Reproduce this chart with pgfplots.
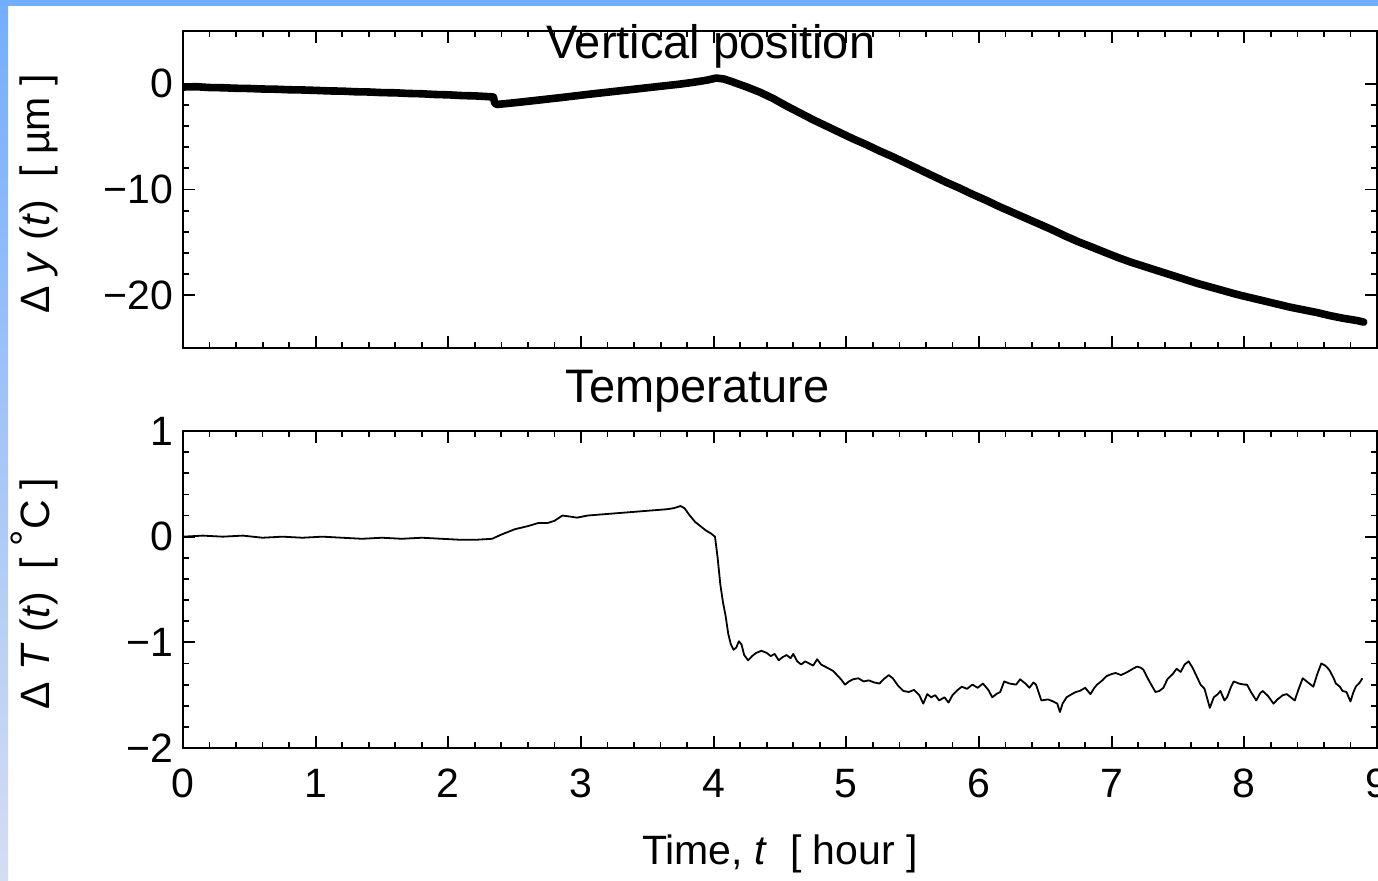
\documentclass[border=0pt]{standalone}
\usepackage{fontspec}
\setmainfont{Liberation Sans}
\usepackage{pgfplots}
\pgfplotsset{compat=1.18}
\definecolor{bgblue}{HTML}{72AEFF}
\definecolor{bgmid}{HTML}{9DC6F9}
\definecolor{bglav}{HTML}{D5DDF2}

\pgfplotstableread{
x y
0.00 -0.30
0.10 -0.27
0.20 -0.35
0.30 -0.37
0.40 -0.42
0.50 -0.44
0.60 -0.49
0.70 -0.51
0.80 -0.56
0.90 -0.58
1.00 -0.62
1.10 -0.67
1.20 -0.69
1.30 -0.75
1.40 -0.77
1.50 -0.83
1.60 -0.85
1.70 -0.91
1.80 -0.94
1.90 -1.01
2.00 -1.04
2.10 -1.11
2.20 -1.14
2.30 -1.21
2.34 -1.25
2.35 -1.85
2.37 -1.95
2.45 -1.85
2.55 -1.72
2.65 -1.58
2.75 -1.44
2.85 -1.30
2.95 -1.15
3.05 -1.00
3.15 -0.86
3.25 -0.72
3.35 -0.58
3.45 -0.44
3.55 -0.30
3.65 -0.16
3.75 -0.02
3.85 0.15
3.95 0.35
4.02 0.55
4.08 0.45
4.15 0.15
4.25 -0.30
4.35 -0.80
4.45 -1.40
4.55 -2.10
4.65 -2.75
4.75 -3.40
4.85 -4.00
4.95 -4.60
5.05 -5.20
5.15 -5.75
5.25 -6.35
5.35 -6.90
5.45 -7.50
5.55 -8.10
5.65 -8.70
5.75 -9.30
5.85 -9.85
5.95 -10.45
6.05 -11.00
6.15 -11.60
6.25 -12.15
6.35 -12.70
6.45 -13.25
6.55 -13.80
6.65 -14.40
6.75 -14.95
6.85 -15.45
6.95 -15.95
7.05 -16.45
7.15 -16.90
7.25 -17.30
7.35 -17.70
7.45 -18.10
7.55 -18.50
7.65 -18.90
7.75 -19.25
7.85 -19.60
7.95 -19.95
8.05 -20.25
8.15 -20.55
8.25 -20.85
8.35 -21.15
8.45 -21.40
8.55 -21.65
8.65 -21.95
8.75 -22.20
8.85 -22.40
8.90 -22.55
}\posdata

\pgfplotstableread{
x y
0.00 0.00
0.15 0.01
0.30 0.00
0.45 0.01
0.60 -0.01
0.75 0.00
0.90 -0.01
1.05 0.00
1.20 -0.01
1.35 -0.02
1.50 -0.01
1.65 -0.02
1.80 -0.01
1.95 -0.02
2.10 -0.03
2.20 -0.03
2.33 -0.02
2.40 0.02
2.50 0.07
2.60 0.10
2.68 0.13
2.75 0.13
2.80 0.15
2.86 0.20
2.92 0.19
2.97 0.18
3.05 0.20
3.15 0.21
3.25 0.22
3.35 0.23
3.45 0.24
3.55 0.25
3.65 0.26
3.70 0.27
3.75 0.29
3.78 0.27
3.82 0.20
3.86 0.14
3.90 0.10
3.94 0.06
3.98 0.03
4.01 0.00
4.03 -0.20
4.05 -0.45
4.07 -0.62
4.09 -0.75
4.11 -0.92
4.13 -1.02
4.15 -1.07
4.17 -1.05
4.19 -0.99
4.21 -1.02
4.23 -1.12
4.26 -1.17
4.29 -1.13
4.32 -1.10
4.36 -1.08
4.40 -1.10
4.43 -1.13
4.46 -1.11
4.49 -1.17
4.52 -1.14
4.55 -1.12
4.58 -1.15
4.60 -1.11
4.63 -1.18
4.66 -1.21
4.69 -1.18
4.72 -1.20
4.75 -1.22
4.78 -1.16
4.81 -1.21
4.84 -1.23
4.87 -1.25
4.90 -1.27
4.93 -1.31
4.96 -1.35
4.99 -1.40
5.02 -1.37
5.05 -1.35
5.09 -1.34
5.13 -1.37
5.17 -1.36
5.21 -1.38
5.25 -1.39
5.28 -1.35
5.32 -1.31
5.35 -1.34
5.39 -1.41
5.43 -1.46
5.47 -1.47
5.51 -1.45
5.55 -1.50
5.58 -1.58
5.61 -1.49
5.64 -1.52
5.67 -1.50
5.70 -1.55
5.74 -1.52
5.77 -1.57
5.80 -1.50
5.84 -1.45
5.87 -1.42
5.91 -1.44
5.95 -1.40
5.99 -1.43
6.03 -1.39
6.07 -1.45
6.10 -1.52
6.13 -1.49
6.16 -1.47
6.19 -1.37
6.23 -1.39
6.28 -1.40
6.31 -1.35
6.35 -1.39
6.38 -1.43
6.41 -1.38
6.43 -1.40
6.47 -1.55
6.52 -1.54
6.56 -1.56
6.59 -1.58
6.61 -1.66
6.63 -1.58
6.66 -1.52
6.70 -1.49
6.73 -1.47
6.76 -1.46
6.80 -1.43
6.84 -1.49
6.87 -1.43
6.89 -1.40
6.93 -1.36
6.96 -1.32
7.00 -1.30
7.03 -1.29
7.07 -1.31
7.12 -1.28
7.16 -1.25
7.19 -1.23
7.22 -1.24
7.24 -1.26
7.28 -1.36
7.33 -1.47
7.36 -1.46
7.39 -1.43
7.42 -1.35
7.46 -1.30
7.49 -1.25
7.52 -1.28
7.55 -1.21
7.58 -1.18
7.61 -1.24
7.64 -1.32
7.67 -1.40
7.70 -1.44
7.74 -1.62
7.77 -1.52
7.80 -1.49
7.82 -1.46
7.85 -1.55
7.87 -1.52
7.90 -1.42
7.92 -1.37
7.96 -1.39
8.00 -1.40
8.02 -1.40
8.05 -1.47
8.09 -1.55
8.12 -1.48
8.14 -1.46
8.18 -1.51
8.22 -1.58
8.25 -1.54
8.29 -1.50
8.32 -1.49
8.35 -1.52
8.38 -1.55
8.41 -1.44
8.44 -1.34
8.48 -1.38
8.52 -1.42
8.55 -1.30
8.58 -1.20
8.61 -1.22
8.64 -1.26
8.67 -1.33
8.69 -1.39
8.72 -1.42
8.74 -1.46
8.77 -1.47
8.80 -1.56
8.82 -1.48
8.84 -1.42
8.87 -1.38
8.89 -1.34
}\tempdata

\pgfplotsset{
  myaxis/.style={
    scale only axis,
    width=597pt, height=158.5pt,
    xmin=0, xmax=9,
    xtick={0,1,2,3,4,5,6,7,8,9},
    minor x tick num=4,
    minor y tick num=4,
    tick align=inside,
    xtick pos=both, ytick pos=both,
    xticklabel pos=lower, yticklabel pos=left,
    major tick length=6pt,
    minor tick length=3pt,
    axis line style={line width=1.1pt, black},
    every tick/.style={black, line width=0.9pt},
    tick label style={font=\fontsize{20.5}{24}\selectfont},
    label style={font=\fontsize{20.5}{24}\selectfont},
    /pgf/number format/assume math mode=true,
    title style={font=\fontsize{23.5}{28}\selectfont, anchor=base, inner sep=0pt},
    ylabel style={at={(axis description cs:-0.1114,0.487)}, anchor=base, inner sep=0pt},
    xticklabel style={yshift=-7pt},
    yticklabel style={xshift=-1.5pt},
  }
}

\begin{document}
\begin{tikzpicture}
\fill[white] (0pt,0pt) rectangle (689pt,440pt);
\shade[top color=bgblue, middle color=bgmid, bottom color=bglav] (0pt,0pt) rectangle (4pt,440pt);
\fill[bgblue] (0pt,437pt) rectangle (689pt,440pt);
\begin{scope}
\clip (0pt,0pt) rectangle (689pt,440pt);
\begin{axis}[myaxis,
  at={(91.5pt,266pt)}, anchor=south west,
  ymin=-25, ymax=5,
  ytick={-20,-10,0},
  yticklabels={−20,−10,0},
  xticklabel=\empty,
  title={Vertical position},
  title style={at={(axis description cs:0.442,0.874)}},
  ylabel={Δ \textit{y} (\textit{t})\ \ [ µm ]},
]
\addplot[black, line width=3.8pt, line join=round, line cap=round] table[x=x,y=y] {\posdata};
\end{axis}
\begin{axis}[myaxis,
  at={(91.5pt,66pt)}, anchor=south west,
  ymin=-2, ymax=1,
  ytick={-2,-1,0,1},
  yticklabels={−2,−1,0,1},
  xticklabels={0,1,2,3,4,5,6,7,8,9},
  title={Temperature},
  title style={at={(axis description cs:0.431,1.052)}},
  ylabel={Δ \textit{T} (\textit{t})\ \ [ \raisebox{0.25em}{°}C ]},
  xlabel={Time, \textit{t}\ \ [ hour ]},
  xlabel style={at={(axis description cs:0.5,-0.369)}, anchor=base, inner sep=0pt},
]
\addplot[black, line width=0.9pt, line join=round] table[x=x,y=y] {\tempdata};
\end{axis}
\end{scope}
\pgfresetboundingbox
\useasboundingbox (0pt,0pt) rectangle (689pt,440pt);
\end{tikzpicture}
\end{document}
